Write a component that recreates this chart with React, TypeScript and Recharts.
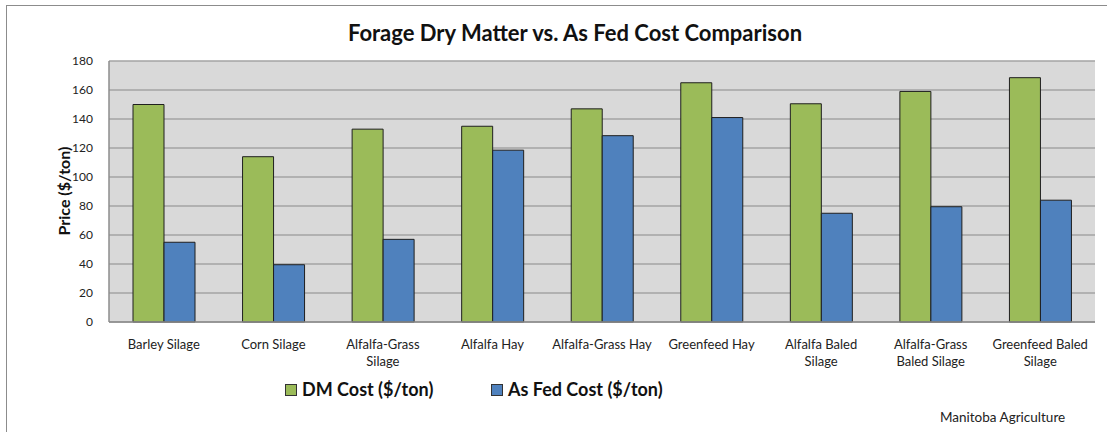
import React from 'react';
import { BarChart, Bar, XAxis, YAxis, CartesianGrid } from 'recharts';

const categories = [
  'Barley Silage',
  'Corn Silage',
  'Alfalfa-Grass Silage',
  'Alfalfa Hay',
  'Alfalfa-Grass Hay',
  'Greenfeed Hay',
  'Alfalfa Baled Silage',
  'Alfalfa-Grass Baled Silage',
  'Greenfeed Baled Silage',
];

// how each category label wraps under the axis
const tickLines: string[][] = [
  ['Barley Silage'],
  ['Corn Silage'],
  ['Alfalfa-Grass', 'Silage'],
  ['Alfalfa Hay'],
  ['Alfalfa-Grass Hay'],
  ['Greenfeed Hay'],
  ['Alfalfa Baled', 'Silage'],
  ['Alfalfa-Grass', 'Baled Silage'],
  ['Greenfeed Baled', 'Silage'],
];

const dmCost = [150, 114, 133, 135, 147, 165, 150.5, 159, 168.5];
const asFedCost = [55, 39.5, 57, 118.5, 128.5, 141, 75, 79.5, 84];
const yTicks = [0, 20, 40, 60, 80, 100, 120, 140, 160, 180];

const data = categories.map((name, i) => ({
  name,
  dm: dmCost[i],
  asFed: asFedCost[i],
}));

const FONT = 'Lato, "Open Sans", sans-serif';

function CategoryTick({ x, y, payload }: any) {
  const idx = categories.indexOf(payload.value);
  const lines = idx >= 0 ? tickLines[idx] : [payload.value];
  return (
    <text x={x} y={y} textAnchor="middle" fill="#222" fontSize={13} fontFamily={FONT}>
      {lines.map((l, i) => (
        <tspan key={i} x={x} dy={i === 0 ? 19 : 17}>
          {l}
        </tspan>
      ))}
    </text>
  );
}

function LegendItem({ color, label, left }: { color: string; label: string; left: number }) {
  return (
    <div
      style={{
        position: 'absolute',
        left,
        top: 378,
        fontWeight: 700,
        fontSize: 18,
        color: '#111',
        whiteSpace: 'nowrap',
        lineHeight: '22px',
      }}
    >
      <span
        style={{
          display: 'inline-block',
          width: 10,
          height: 10,
          background: color,
          border: '1px solid #333',
          marginRight: 5,
          verticalAlign: 'middle',
          position: 'relative',
          top: -1,
        }}
      />
      {label}
    </div>
  );
}

export default function App() {
  return (
    <div
      style={{
        position: 'absolute',
        left: 0,
        top: 0,
        width: 1107,
        height: 432,
        background: '#fff',
        overflow: 'hidden',
        fontFamily: FONT,
      }}
    >
      <div
        style={{
          position: 'absolute',
          left: 6,
          top: 5,
          width: 1101,
          height: 427,
          borderLeft: '1px solid #8c8c8c',
          borderTop: '1px solid #8c8c8c',
        }}
      />
      <BarChart
        width={1107}
        height={432}
        data={data}
        margin={{ top: 61, right: 12, bottom: 60, left: 0 }}
        barGap={0}
        style={{ position: 'absolute', left: 0, top: 0 }}
      >
        <CartesianGrid vertical={false} fill="#d9d9d9" stroke="#a3a3a3" strokeWidth={1.5} />
        <XAxis
          dataKey="name"
          height={50}
          interval={0}
          tickLine={false}
          axisLine={{ stroke: '#8c8c8c', strokeWidth: 1.5 }}
          tick={<CategoryTick />}
        />
        <YAxis
          width={109}
          domain={[0, 180]}
          ticks={yTicks}
          interval={0}
          tickLine={false}
          axisLine={{ stroke: '#8c8c8c', strokeWidth: 1.5 }}
          tickMargin={10}
          tick={{ fill: '#222', fontSize: 12, fontFamily: FONT }}
        />
        <Bar
          dataKey="dm"
          name="DM Cost ($/ton)"
          fill="#9bbb59"
          stroke="#1f1f1f"
          strokeWidth={1}
          barSize={31}
          isAnimationActive={false}
        />
        <Bar
          dataKey="asFed"
          name="As Fed Cost ($/ton)"
          fill="#4f81bd"
          stroke="#1f1f1f"
          strokeWidth={1}
          barSize={31}
          isAnimationActive={false}
        />
      </BarChart>

      <div
        style={{
          position: 'absolute',
          left: 0,
          width: 1150,
          top: 19,
          textAlign: 'center',
          fontWeight: 700,
          fontSize: 22,
          color: '#111',
          lineHeight: '28px',
        }}
      >
        Forage Dry Matter vs. As Fed Cost Comparison
      </div>

      <div
        style={{
          position: 'absolute',
          left: 63,
          top: 191,
          transform: 'translate(-50%, -50%) rotate(-90deg)',
          whiteSpace: 'nowrap',
          fontWeight: 700,
          fontSize: 16,
          color: '#111',
        }}
      >
        Price ($/ton)
      </div>

      <LegendItem color="#9bbb59" label="DM Cost ($/ton)" left={285} />
      <LegendItem color="#4f81bd" label="As Fed Cost ($/ton)" left={491} />

      <div
        style={{
          position: 'absolute',
          left: 940,
          top: 409,
          fontSize: 13.5,
          color: '#222',
          whiteSpace: 'nowrap',
          lineHeight: '16px',
        }}
      >
        Manitoba Agriculture
      </div>
    </div>
  );
}
